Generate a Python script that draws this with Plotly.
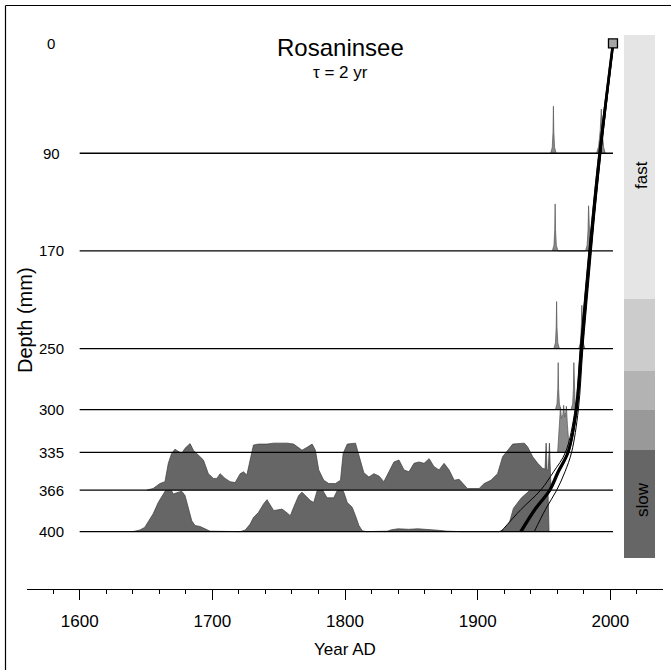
import plotly.graph_objects as go

# ---------------- data ----------------
depth_levels = [90, 170, 250, 300, 335, 366, 400]
depth_tick_vals = [0, 90, 170, 250, 300, 335, 366, 400]
depth_tick_text = ["0", "90", "170", "250", "300", "335", "366", "400"]
core_top_year = 2002
core_top_depth = 0

# calendar-age probability (normalised) for each dated depth
years400 = [1640, 1645.4, 1649, 1652.9, 1655.4, 1659.2, 1663, 1665.5, 1667.5, 1670.6, 1674.4, 1676.9,
            1679.4, 1681.9, 1684.5, 1687, 1690.7, 1694.5, 1698.3, 1721, 1724.8, 1728.5, 1731, 1734.8,
            1738.6, 1741.2, 1743.7, 1746.2, 1748.7, 1752.5, 1755, 1758.8, 1761.3, 1765.1, 1767.6, 1770.1,
            1773.9, 1776.4, 1779, 1781.5, 1784, 1786.5, 1791.5, 1794.1, 1796.6, 1799.1, 1801.7, 1805.4,
            1807.9, 1810.5, 1813, 1816, 1832, 1835, 1840, 1848, 1855, 1862, 1870, 1877, 1887,
            1916, 1920, 1924, 1927, 1933, 1938, 1943, 1947, 1950, 1953, 1953.8]
dens400 = [0, 0.035, 0.09, 0.27, 0.38, 0.62, 0.79, 0.91, 0.96, 0.80, 0.84, 0.86,
           0.77, 0.52, 0.23, 0.13, 0.11, 0.06, 0.01, 0, 0.035, 0.16, 0.3, 0.41,
           0.59, 0.68, 0.55, 0.45, 0.46, 0.48, 0.43, 0.34, 0.52, 0.77, 0.84, 0.77,
           0.66, 0.62, 0.87, 0.96, 0.84, 0.72, 0.72, 0.87, 0.97, 0.84, 0.62, 0.52,
           0.34, 0.13, 0.02, 0, 0.01, 0.04, 0.06, 0.05, 0.06, 0.05, 0.03, 0.01, 0,
           0, 0.05, 0.2, 0.5, 0.72, 0.85, 0.97, 1.0, 0.97, 0.9, 0]

years366 = [1650.4, 1655.4, 1660.5, 1664.3, 1666.8, 1669.3, 1671.8, 1674.4, 1676.9, 1679.4, 1683.2,
            1685.7, 1689.5, 1693.3, 1697, 1700.8, 1703.4, 1705.9, 1709.6, 1713.4, 1717.2, 1721,
            1723.5, 1726, 1728.5, 1731, 1734.8, 1741.2, 1746.2, 1756.3, 1761.3, 1767.6, 1771.4,
            1775.2, 1777.7, 1780.2, 1784, 1787.8, 1792.8, 1796.6, 1798.6, 1801.7, 1807.9, 1810.5,
            1814.2, 1818, 1821.8, 1825.6, 1829.3, 1833.1, 1836.9, 1840.7, 1844.5, 1848.2, 1852,
            1855.8, 1859.6, 1863.4, 1867.1, 1870.9, 1874.7, 1878.5, 1882.3, 1886, 1889.8, 1892.3,
            1901.1, 1904.9, 1910, 1915, 1918.8, 1922.6, 1926.4, 1935.2, 1937.7, 1941.5, 1945.3,
            1949.1, 1950.8, 1951.6, 1952.3, 1953.2, 1954.1, 1954.8, 1955.4]
dens366 = [0, 0.035, 0.14, 0.18, 0.57, 0.78, 0.87, 0.82, 0.78, 0.89, 0.99,
           0.85, 0.74, 0.64, 0.35, 0.25, 0.25, 0.35, 0.25, 0.18, 0.16, 0.35,
           0.39, 0.32, 0.64, 0.96, 0.98, 0.98, 1.0, 1.0, 0.98, 0.85, 0.91,
           0.98, 0.85, 0.43, 0.21, 0.14, 0.14, 0.21, 0.78, 0.98, 1.0, 0.75,
           0.37, 0.28, 0.35, 0.3, 0.18, 0.39, 0.6, 0.64, 0.43, 0.39, 0.57,
           0.6, 0.57, 0.67, 0.5, 0.43, 0.57, 0.43, 0.21, 0.23, 0.11, 0.035,
           0.035, 0.14, 0.21, 0.35, 0.71, 0.85, 0.98, 1.0, 0.92, 0.71, 0.57,
           0.46, 0.45, 1.0, 0.44, 0.42, 1.0, 0.4, 0]

years335 = [1960.3, 1961.2, 1962.0, 1962.4, 1963.2, 1964.2, 1964.8, 1965.6, 1966.4, 1966.9, 1967.6, 1968.4, 1969.2]
dens335 = [0, 0.45, 0.85, 0.95, 0.72, 0.8, 1.0, 0.75, 0.85, 0.98, 0.6, 0.3, 0]

years300 = [1958.6, 1959.8, 1960.4, 1960.7, 1961.0, 1961.6, 1962.8, 1970.4, 1971.6, 1972.2, 1972.5, 1972.8, 1973.4, 1974.6]
dens300 = [0, 0.12, 0.45, 1.0, 0.45, 0.12, 0, 0, 0.12, 0.45, 1.0, 0.45, 0.12, 0]

years250 = [1957.4, 1958.6, 1959.2, 1959.5, 1959.8, 1960.4, 1961.6, 1976.2, 1977.4, 1978.1, 1978.5, 1978.9, 1979.6, 1980.8]
dens250 = [0, 0.12, 0.45, 1.0, 0.45, 0.12, 0, 0, 0.12, 0.45, 0.92, 0.45, 0.12, 0]

years170 = [1956.3, 1957.5, 1958.1, 1958.4, 1958.7, 1959.3, 1960.5, 1981.3, 1982.5, 1983.2, 1983.6, 1984.0, 1984.7, 1985.9]
dens170 = [0, 0.12, 0.45, 1.0, 0.45, 0.12, 0, 0, 0.12, 0.45, 0.96, 0.45, 0.12, 0]

years90 = [1955.0, 1956.2, 1956.8, 1957.1, 1957.4, 1958.0, 1959.2, 1989.6, 1991.2, 1992.4, 1993.2, 1993.8, 1995.0, 1996.2]
dens90 = [0, 0.12, 0.45, 1.0, 0.45, 0.12, 0, 0, 0.15, 0.5, 0.94, 0.45, 0.12, 0]

# age-depth model curves
model_depths = [0, 90, 145, 194, 250, 300, 335, 351, 366, 382, 400]
model_mean = [2002, 1992, 1986.8, 1982.6, 1978.1, 1974.3, 1968, 1960.4, 1954.1, 1942.7, 1932.2]
model_mean2 = [2002.6, 1992.7, 1987.5, 1983.3, 1978.9, 1975.0, 1968.8, 1961.6, 1955.2, 1944.0, 1933.5]
model_upper = [2002.4, 1992.9, 1987.8, 1983.8, 1979.3, 1975.9, 1970.8, 1965.8, 1959.6, 1951.0, 1942.7]
model_lower = [2001.6, 1991.3, 1986.0, 1981.8, 1977.3, 1973.4, 1966.2, 1957.2, 1947.5, 1932.5, 1917.6]

rate_classes = ["fast", "", "", "", "slow"]
rate_colors = ["#e5e5e5", "#cccccc", "#b3b3b3", "#999999", "#666666"]

x_major = [1600, 1700, 1800, 1900, 2000]

# ---------------- layout helpers (pixel geometry) ----------------
W, H = 671, 670
L, R, T, B = 27, 663, 20, 589
X_RANGE = [1560.3, 2039.7]
Y_RANGE = [447.0, -19.17]
DENS_H = 38.5   # height of a normalised density in depth units


def px_x(px):
    return (px - L) / (R - L)


def px_y(py):
    return (B - py) / (B - T)


fig = go.Figure()


def add_density(years, dens, depth, fill, line):
    xs = [years[0]] + list(years) + [years[-1]]
    ys = [depth] + [depth - v * DENS_H for v in dens] + [depth]
    fig.add_trace(go.Scatter(x=xs, y=ys, mode="lines", fill="toself", fillcolor=fill,
                             line=dict(color=line, width=0.7), hoverinfo="skip", showlegend=False))


add_density(years400, dens400, 400, "#666666", "#3c3c3c")
add_density(years366, dens366, 366, "#666666", "#3c3c3c")
add_density(years335, dens335, 335, "#8a8a8a", "#555555")
add_density(years300, dens300, 300, "#8a8a8a", "#555555")
add_density(years250, dens250, 250, "#8a8a8a", "#555555")
add_density(years170, dens170, 170, "#8a8a8a", "#555555")
add_density(years90, dens90, 90, "#8a8a8a", "#555555")

# depth reference lines
lx, ly = [], []
for d in depth_levels:
    lx += [1600, core_top_year, None]
    ly += [d, d, None]
fig.add_trace(go.Scatter(x=lx, y=ly, mode="lines", line=dict(color="black", width=1.3),
                         hoverinfo="skip", showlegend=False))

# model curves
for ys, w in [(model_lower, 1.0), (model_upper, 1.0), (model_mean2, 1.2), (model_mean, 2.6)]:
    fig.add_trace(go.Scatter(x=ys, y=model_depths, mode="lines", line=dict(color="black", width=w, shape="spline"),
                             hoverinfo="skip", showlegend=False))

# core top marker
fig.add_trace(go.Scatter(x=[core_top_year], y=[core_top_depth], mode="markers",
                         marker=dict(symbol="square", size=9, color="#a6a6a6", line=dict(color="black", width=1.3)),
                         hoverinfo="skip", showlegend=False))

shapes = []
# rate bar
bar_edges = [35, 299, 371, 410, 450, 558]
for i, c in enumerate(rate_colors):
    shapes.append(dict(type="rect", xref="paper", yref="paper", x0=px_x(624), x1=px_x(655),
                       y0=px_y(bar_edges[i + 1]), y1=px_y(bar_edges[i]), fillcolor=c, line=dict(width=0),
                       layer="below"))
# outer frame (left and top edges)
shapes.append(dict(type="line", xref="paper", yref="paper", x0=px_x(5.5), x1=px_x(5.5), y0=px_y(5.5), y1=px_y(700),
                   line=dict(color="black", width=1.2)))
shapes.append(dict(type="line", xref="paper", yref="paper", x0=px_x(5.5), x1=px_x(700), y0=px_y(5.5), y1=px_y(5.5),
                   line=dict(color="black", width=1.2)))

FONT = "Liberation Sans, Arial, sans-serif"
ann = []
for v, t in zip(depth_tick_vals, depth_tick_text):
    ann.append(dict(x=px_x(51), y=v, xref="paper", yref="y", text=t, showarrow=False, xanchor="center",
                    yanchor="middle", font=dict(size=15, color="black", family=FONT)))
ann.append(dict(x=px_x(340), y=px_y(48), xref="paper", yref="paper", text="Rosaninsee", showarrow=False,
                font=dict(size=24, color="black", family=FONT), xanchor="center", yanchor="middle"))
ann.append(dict(x=px_x(340), y=px_y(72), xref="paper", yref="paper", text="τ = 2 yr", showarrow=False,
                font=dict(size=17, color="black", family=FONT), xanchor="center", yanchor="middle"))
ann.append(dict(x=px_x(25), y=px_y(320), xref="paper", yref="paper", text="Depth (mm)", showarrow=False,
                textangle=-90, font=dict(size=20, color="black", family=FONT), xanchor="center", yanchor="middle"))
ann.append(dict(x=1800, y=px_y(649), xref="x", yref="paper", text="Year AD", showarrow=False,
                font=dict(size=17, color="black", family=FONT), xanchor="center", yanchor="middle"))
ann.append(dict(x=px_x(641), y=px_y(175), xref="paper", yref="paper", text=rate_classes[0], showarrow=False,
                textangle=-90, font=dict(size=17, color="black", family=FONT), xanchor="center", yanchor="middle"))
ann.append(dict(x=px_x(642), y=px_y(500), xref="paper", yref="paper", text=rate_classes[-1], showarrow=False,
                textangle=-90, font=dict(size=17, color="black", family=FONT), xanchor="center", yanchor="middle"))

fig.update_layout(
    width=W, height=H, margin=dict(l=L, r=W - R, t=T, b=H - B),
    paper_bgcolor="white", plot_bgcolor="white",
    shapes=shapes, annotations=ann, showlegend=False,
    xaxis=dict(range=X_RANGE, showgrid=False, zeroline=False, showline=True, linecolor="black", linewidth=1.2,
               ticks="outside", ticklen=10, tickwidth=1.2, tickcolor="black", tickvals=x_major,
               ticktext=[str(v) for v in x_major], tickfont=dict(size=17, color="black", family=FONT),
               ticklabelstandoff=6,
               minor=dict(ticks="outside", ticklen=4, tickwidth=1.2, tickcolor="black", dtick=20, tick0=1560,
                          showgrid=False)),
    yaxis=dict(range=Y_RANGE, showgrid=False, zeroline=False, showline=False, showticklabels=False, ticks=""),
)

fig.write_html("out.html", config={"displayModeBar": False},
               post_script="document.body.style.margin='0px';document.body.style.overflow='hidden';")
